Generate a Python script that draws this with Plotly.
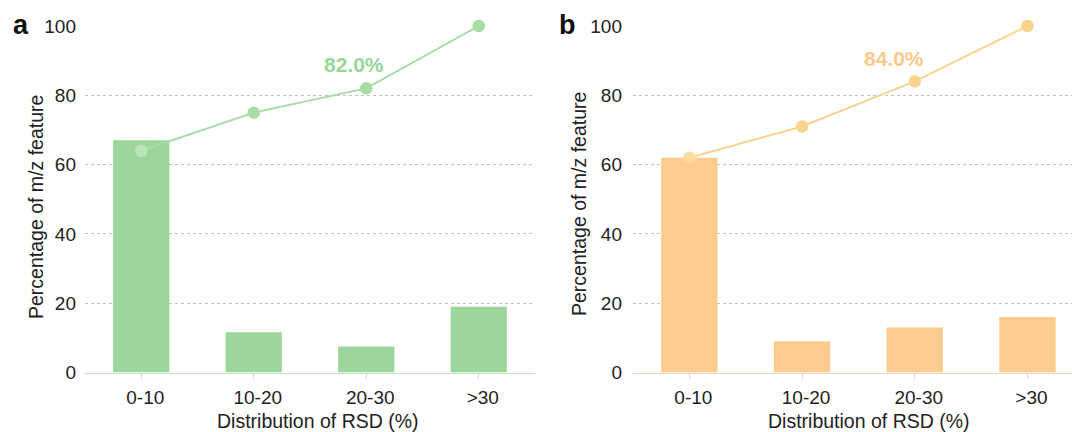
import plotly.graph_objects as go

categories = ["0-10", "10-20", "20-30", ">30"]
bars_a = [67.0, 11.6, 7.5, 19.0]
line_a = [64.0, 75.0, 82.0, 100.0]
bars_b = [62.0, 9.0, 13.0, 16.0]
line_b = [62.0, 71.0, 84.0, 100.0]
yticks = [0, 20, 40, 60, 80, 100]
label_a = "82.0%"
label_b = "84.0%"

W, H = 1072, 432
FONT = "Liberation Sans, Arial, sans-serif"

green_bar = "#9dd69b"
green_line = "#a8dca5"
green_first = "#bce6b9"
orange_bar = "#fdcb8d"
orange_line = "#f9d48f"
orange_first = "#fcdc9e"

fig = go.Figure()

fig.add_trace(go.Bar(x=categories, y=bars_a, width=0.5, marker=dict(color=green_bar, line=dict(width=0)),
                     xaxis="x", yaxis="y", showlegend=False))
fig.add_trace(go.Scatter(x=categories, y=line_a, mode="lines+markers",
                         line=dict(color=green_line, width=2),
                         marker=dict(size=12.5, color=[green_first, green_line, green_line, green_line]),
                         cliponaxis=False, xaxis="x", yaxis="y", showlegend=False))
fig.add_trace(go.Bar(x=categories, y=bars_b, width=0.5, marker=dict(color=orange_bar, line=dict(width=0)),
                     xaxis="x2", yaxis="y2", showlegend=False))
fig.add_trace(go.Scatter(x=categories, y=line_b, mode="lines+markers",
                         line=dict(color=orange_line, width=2),
                         marker=dict(size=12.5, color=[orange_first, orange_line, orange_line, orange_line]),
                         cliponaxis=False, xaxis="x2", yaxis="y2", showlegend=False))

ydom = [(H - 372.5) / H, (H - 26) / H]

common_x = dict(type="category", showgrid=False, ticks="outside", ticklen=5, tickwidth=1,
                tickfont=dict(size=19, color="#222", family=FONT), showline=True, linewidth=1.2,
                ticklabelshift=4, ticklabelstandoff=3, automargin=False)
common_y = dict(range=[0, 100], tickvals=yticks, showgrid=True, gridcolor="#c2c2c2", griddash="dot",
                gridwidth=1, zeroline=False, showline=False, ticks="",
                tickfont=dict(size=19, color="#222", family=FONT), automargin=False)

fig.update_layout(
    width=W, height=H,
    margin=dict(l=0, r=0, t=0, b=0, pad=0),
    paper_bgcolor="white", plot_bgcolor="white",
    font=dict(family=FONT, color="#222"),
    xaxis=dict(domain=[85 / W, 535 / W], range=[-0.5, 3.5], linecolor="#bfe3bc", tickcolor="#d0d8cf",
               anchor="y", **common_x),
    yaxis=dict(domain=ydom, anchor="x", ticklabelstandoff=8, **common_y),
    xaxis2=dict(domain=[633 / W, 1.0], range=[-0.5, -0.5 + (1072 - 633) / 112.7], linecolor="#f1d5b8",
                tickcolor="#ddd4cc", anchor="y2", **common_x),
    yaxis2=dict(domain=ydom, anchor="x2", ticklabelstandoff=10, **common_y),
    bargap=0.5,
)

annotations = [
    dict(text="<b>a</b>", x=21 / W, y=1 - 25 / H, xref="paper", yref="paper", showarrow=False,
         font=dict(size=27, color="#111", family=FONT), xanchor="center", yanchor="middle"),
    dict(text="<b>b</b>", x=567 / W, y=1 - 25 / H, xref="paper", yref="paper", showarrow=False,
         font=dict(size=27, color="#111", family=FONT), xanchor="center", yanchor="middle"),
    dict(text="Percentage of m/z feature", x=36 / W, y=1 - 207 / H, xref="paper", yref="paper",
         showarrow=False, textangle=-90, font=dict(size=19.5, color="#222", family=FONT),
         xanchor="center", yanchor="middle"),
    dict(text="Percentage of m/z feature", x=579 / W, y=1 - 204 / H, xref="paper", yref="paper",
         showarrow=False, textangle=-90, font=dict(size=19.5, color="#222", family=FONT),
         xanchor="center", yanchor="middle"),
    dict(text="Distribution of RSD (%)", x=318 / W, y=1 - 421 / H, xref="paper", yref="paper",
         showarrow=False, font=dict(size=19.5, color="#222", family=FONT), xanchor="center", yanchor="middle"),
    dict(text="Distribution of RSD (%)", x=869 / W, y=1 - 421 / H, xref="paper", yref="paper",
         showarrow=False, font=dict(size=19.5, color="#222", family=FONT), xanchor="center", yanchor="middle"),
    dict(text="<b>" + label_a + "</b>", x=categories[2], y=88.9, xref="x", yref="y", xshift=-12,
         showarrow=False, font=dict(size=21, color="#9ad598", family=FONT), xanchor="center", yanchor="middle"),
    dict(text="<b>" + label_b + "</b>", x=categories[2], y=90.6, xref="x2", yref="y2", xshift=-21,
         showarrow=False, font=dict(size=21, color="#fcc98a", family=FONT), xanchor="center", yanchor="middle"),
]
fig.update_layout(annotations=annotations)

fig.write_html("out.html")
